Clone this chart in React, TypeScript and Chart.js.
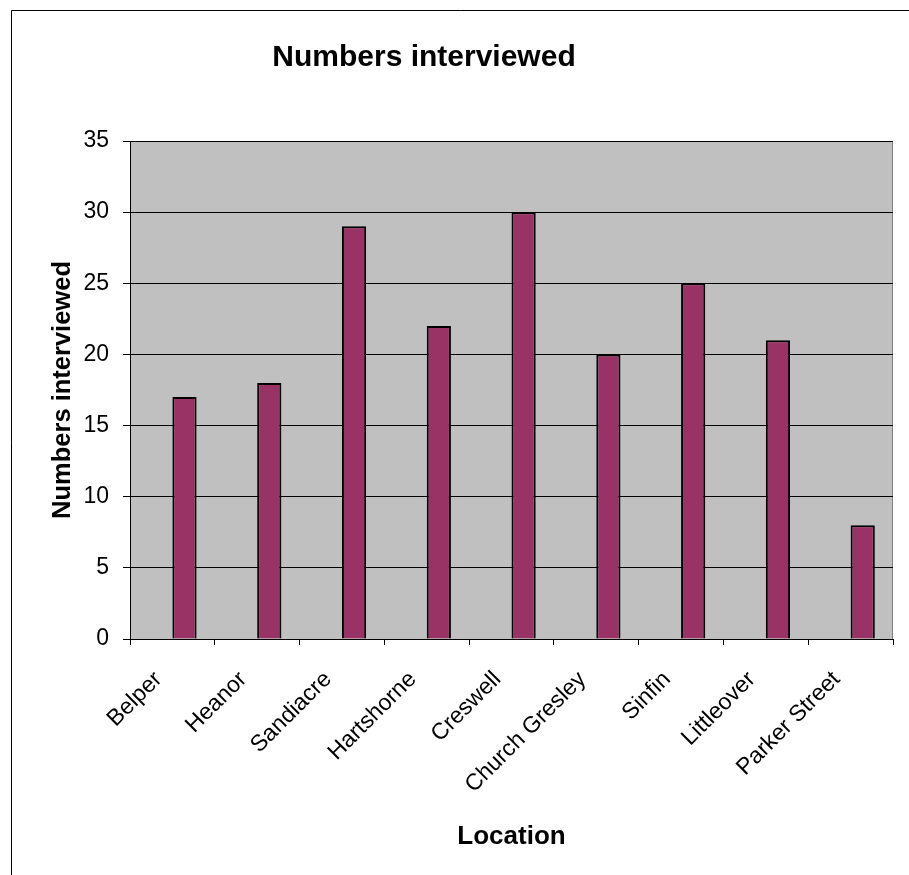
import React, { useEffect, useRef } from "react";
import { Chart, registerables } from "chart.js";

Chart.register(...registerables);

// Survey sites along the category axis
const locations = [
  "Belper",
  "Heanor",
  "Sandiacre",
  "Hartshorne",
  "Creswell",
  "Church Gresley",
  "Sinfin",
  "Littleover",
  "Parker Street",
];

// Empty first series in the workbook (keeps its slot in each group)
const emptySeries: (number | null)[] = [null, null, null, null, null, null, null, null, null];

// Number of people interviewed at each site
const interviewed = [17, 18, 29, 22, 30, 20, 25, 21, 8];

// Value axis range
const yMin = 0;
const yMax = 35;
const yStep = 5;

const chartTitle = "Numbers interviewed";
const xTitle = "Location";
const yTitle = "Numbers interviewed";

const FONT = "'Liberation Sans', Arial, sans-serif";

const decorations = {
  id: "decorations",
  beforeDraw(chart: any) {
    const { ctx, chartArea } = chart;
    ctx.save();
    // outer frame
    ctx.strokeStyle = "#000";
    ctx.lineWidth = 1;
    ctx.beginPath();
    ctx.moveTo(11.5, chart.height);
    ctx.lineTo(11.5, 10.5);
    ctx.lineTo(chart.width, 10.5);
    ctx.stroke();
    // plot area fill
    ctx.fillStyle = "#C0C0C0";
    ctx.fillRect(
      chartArea.left,
      chartArea.top,
      chartArea.right - chartArea.left,
      chartArea.bottom - chartArea.top
    );
    // plot area frame (top / right)
    ctx.strokeStyle = "#808080";
    ctx.beginPath();
    ctx.moveTo(chartArea.left, chartArea.top + 0.5);
    ctx.lineTo(chartArea.right - 0.5, chartArea.top + 0.5);
    ctx.lineTo(chartArea.right - 0.5, chartArea.bottom);
    ctx.stroke();
    ctx.restore();
  },
  afterDraw(chart: any) {
    const { ctx, chartArea } = chart;
    ctx.save();
    ctx.fillStyle = "#000";
    ctx.textBaseline = "alphabetic";
    ctx.textAlign = "center";
    // chart title
    ctx.font = `bold 30px ${FONT}`;
    ctx.fillText(chartTitle, 424, 66);
    // category axis title
    ctx.font = `bold 26px ${FONT}`;
    ctx.fillText(xTitle, (chartArea.left + chartArea.right) / 2, 844);
    // value axis title
    ctx.font = `bold 25.5px ${FONT}`;
    ctx.translate(70, (chartArea.top + chartArea.bottom) / 2);
    ctx.rotate(-Math.PI / 2);
    ctx.fillText(yTitle, 0, 0);
    ctx.restore();
  },
};

export default function App() {
  const canvasRef = useRef<HTMLCanvasElement | null>(null);

  useEffect(() => {
    const canvas = canvasRef.current;
    if (!canvas) return;
    const chart = new Chart(canvas, {
      type: "bar",
      data: {
        labels: locations,
        datasets: [
          {
            label: "Series 1",
            data: emptySeries,
            backgroundColor: "#993366",
            borderColor: "#000",
            borderWidth: 2,
          },
          {
            label: "Numbers interviewed",
            data: interviewed,
            backgroundColor: "#993366",
            borderColor: "#000",
            borderWidth: 2,
          },
        ],
      },
      options: {
        responsive: false,
        animation: false,
        events: [],
        layout: { padding: { left: 0, top: 141, right: 16, bottom: 0 } },
        datasets: {
          bar: { categoryPercentage: 2 / 3.5, barPercentage: 1 },
        },
        plugins: {
          legend: { display: false },
          title: { display: false },
          tooltip: { enabled: false },
        },
        scales: {
          x: {
            offset: true,
            afterFit(scale: any) {
              scale.height = 875 - 639;
            },
            grid: {
              offset: true,
              drawOnChartArea: false,
              drawTicks: true,
              tickLength: 6,
              color: "#000",
              tickColor: "#000",
            },
            border: { display: true, color: "#000", width: 1 },
            ticks: {
              color: "#000",
              font: { family: FONT, size: 23 },
              minRotation: 45,
              maxRotation: 45,
              padding: 21,
              labelOffset: -14,
              autoSkip: false,
            },
          },
          y: {
            min: yMin,
            max: yMax,
            afterFit(scale: any) {
              scale.width = 130;
            },
            grid: {
              color: "#000",
              lineWidth: 1,
              drawTicks: true,
              tickLength: 7,
              tickColor: "#000",
            },
            border: { display: true, color: "#000", width: 1 },
            ticks: {
              stepSize: yStep,
              color: "#000",
              font: { family: FONT, size: 23 },
              padding: 14,
            },
          },
        },
      },
      plugins: [decorations],
    });
    return () => chart.destroy();
  }, []);

  return (
    <canvas
      ref={canvasRef}
      width={909}
      height={875}
      style={{ position: "fixed", left: 0, top: 0, width: 909, height: 875, background: "#fff" }}
    />
  );
}
